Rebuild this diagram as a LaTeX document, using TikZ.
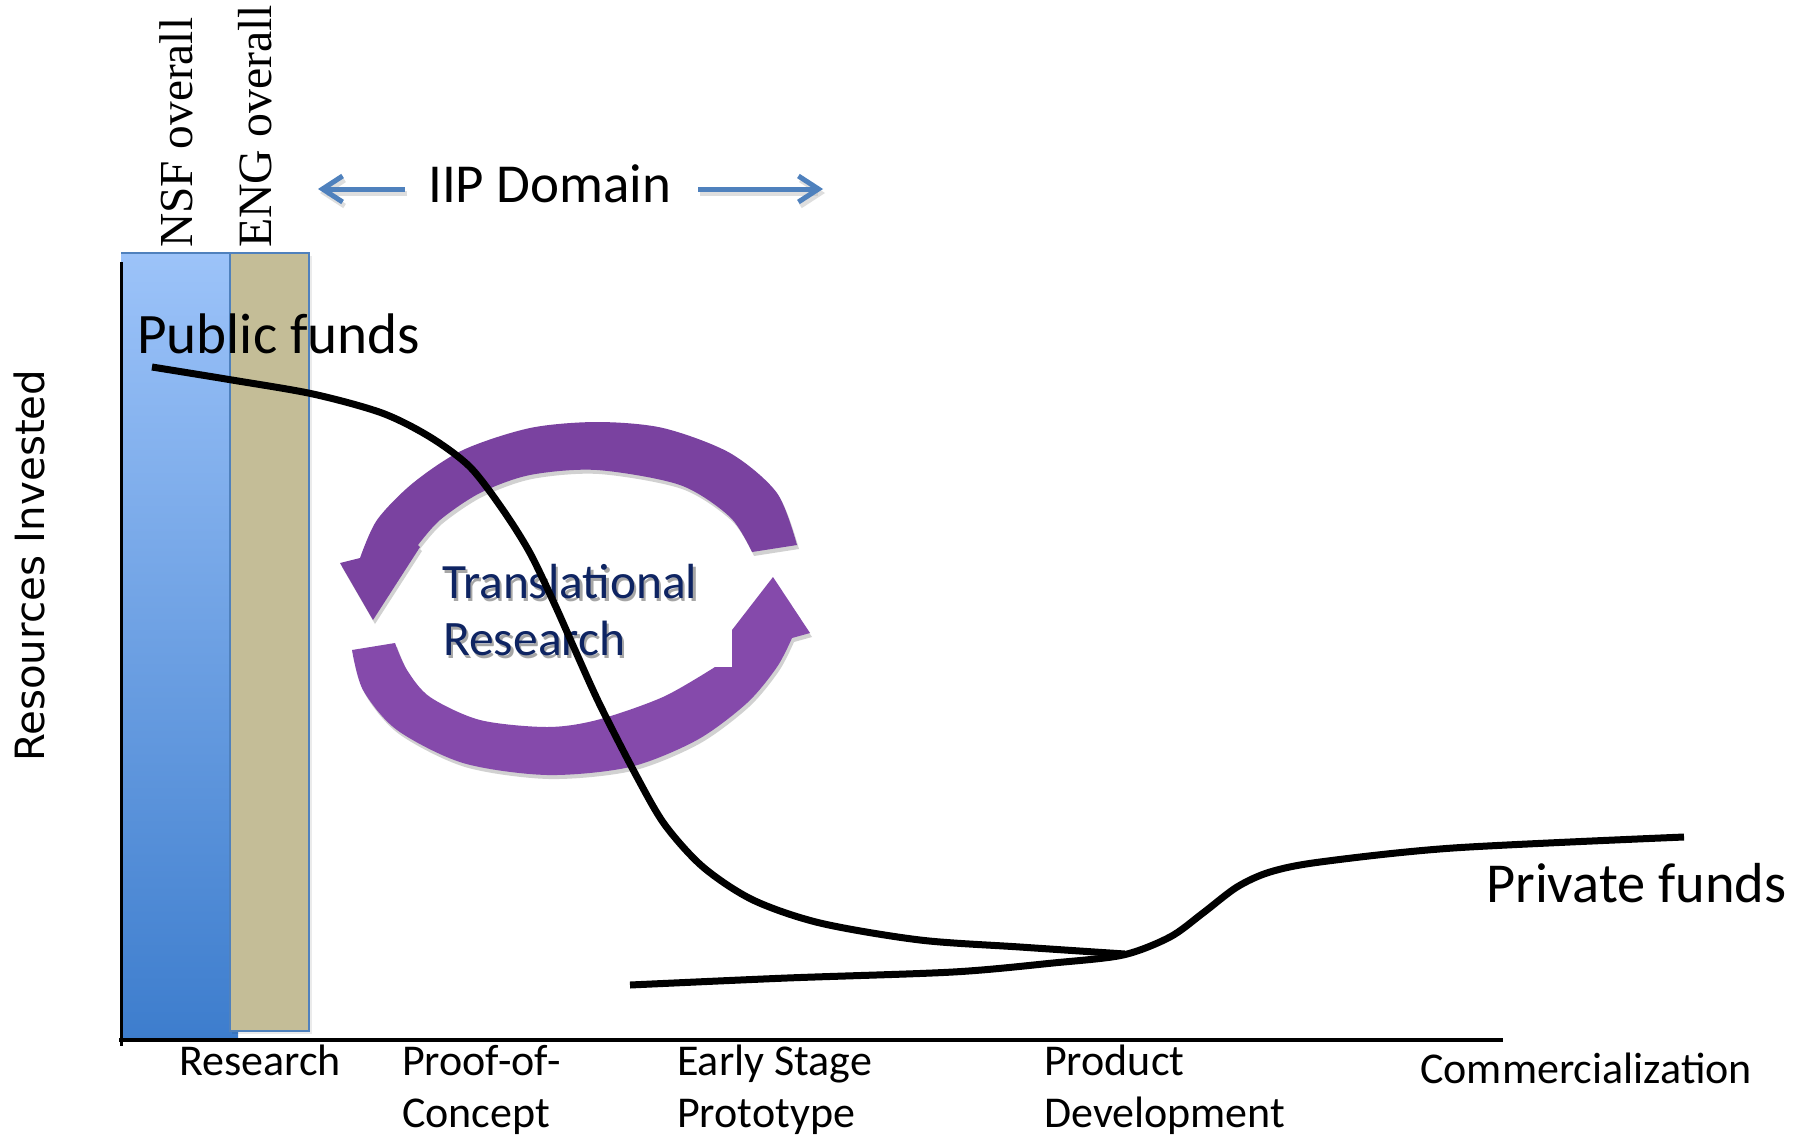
\documentclass[tikz,border=0pt]{standalone}
\usepackage{fontspec}
\usetikzlibrary{arrows.meta}
\newfontfamily\calfont{Carlito}
\newfontfamily\dvfont{DejaVu Sans}
\newfontfamily\tmfont{Liberation Serif}
\newcommand\fw[2]{\resizebox{#1pt}{!}{#2}}
\definecolor{nsftop}{RGB}{156,195,249}
\definecolor{nsfbot}{RGB}{61,125,205}
\definecolor{engtan}{RGB}{196,189,151}
\definecolor{barline}{RGB}{79,129,189}
\definecolor{arrtop}{RGB}{122,66,160}
\definecolor{arrbot}{RGB}{133,74,171}
\definecolor{navy}{RGB}{14,36,98}
\begin{document}
\begin{tikzpicture}[x=1pt,y=-1pt,
  lbl/.style={anchor=base west, inner sep=0pt, font=\calfont\fontsize{44}{48}\selectfont},
  txt/.style={anchor=base west, inner sep=0pt},
  vtxt/.style={anchor=base west, inner sep=0pt, rotate=90},
  curve/.style={line width=7pt, line join=round, line cap=butt},
  dom/.style={draw=barline, line width=5pt, -{Straight Barb[length=20pt,width=26pt,line width=5pt]}},
  toparrow/.pic={\path[pic actions] plot[smooth] coordinates {(797,545) (777,493) (730,453) (663,428) (597,422) (530,428) (463,450) (413,483) (377,520) (360,558)} -- (340,563) -- (373,620) -- (420,547) -- plot[smooth] coordinates {(418,545) (440,520) (480,493) (530,475) (597,470) (680,485) (730,517) (752,552)} -- cycle;},
  botarrow/.pic={\path[pic actions] plot[smooth] coordinates {(352,650) (363,690) (397,730) (463,763) (547,775) (630,767) (697,740) (747,703) (777,667) (792,638)} -- (810,633) -- (773,577) -- (732,630) -- (732,667) -- (715,667) -- plot[smooth] coordinates {(715,667) (663,697) (597,720) (547,727) (480,720) (430,697) (407,670) (395,643)} -- cycle;}
]
\useasboundingbox (0,0) rectangle (1806,1138);
\fill[white] (0,0) rectangle (1806,1138);

% bars
\fill[top color=nsftop, bottom color=nsfbot] (121,253) rectangle (238,1040);
\draw[barline, line width=1.2pt] (121,253) -- (230,253);
\fill[black, opacity=0.08] (232,256) rectangle (312,1034);
\draw[barline, line width=1.5pt, fill=engtan] (230,253) rectangle (309,1031);

% vertical labels
\node[vtxt] (nsf) at (192,248) {\fw{230}{\tmfont NSF overall}};
\node[vtxt] (eng) at (271,248) {\fw{243}{\tmfont ENG overall}};
\node[vtxt] (res) at (44,762) {\fw{392}{\dvfont Resources Invested}};

% IIP domain
\node[txt] (iip) at (428,202) {\fw{243}{\calfont IIP Domain}};
\coordinate (iipLa) at (405,189);
\coordinate (iipLb) at (318,189);
\coordinate (iipRa) at (698,189);
\coordinate (iipRb) at (823,189);
\draw[dom, draw=black!25, opacity=0.5] ([shift={(2,4)}]iipLa) -- ([shift={(2,4)}]iipLb);
\draw[dom, draw=black!25, opacity=0.5] ([shift={(2,4)}]iipRa) -- ([shift={(2,4)}]iipRb);
\draw[dom] (iipLa) -- (iipLb);
\draw[dom] (iipRa) -- (iipRb);

% circular arrows
\pic[fill=black, opacity=0.18] at (2,4) {toparrow};
\pic[fill=black, opacity=0.18] at (2,4) {botarrow};
\pic[fill=arrtop] at (0,0) {toparrow};
\pic[fill=arrbot] at (0,0) {botarrow};

% translational research
\node[txt, text=black!35] at (444.5,601) {\fw{255}{\calfont Translational}};
\node[txt, text=black!35] at (445.5,658) {\fw{182}{\calfont Research}};
\node[txt, text=navy] (tr1) at (442,598) {\fw{255}{\calfont Translational}};
\node[txt, text=navy] (tr2) at (443,655) {\fw{182}{\calfont Research}};

% public / private funds
\node[txt] (pub) at (137,353) {\fw{283}{\calfont Public funds}};
\node[txt] (priv) at (1486,902) {\fw{300}{\calfont Private funds}};

% curves
\draw[curve] plot[smooth, tension=0.5] coordinates {(152,367) (232,380) (313,394) (382,413) (430,437) (470,467) (503,510) (530,553) (555,605) (575,650) (600,705) (637,777) (665,825) (703,867) (753,900) (820,923) (920,940) (1020,947) (1125,954)};
\draw[curve] plot[smooth, tension=0.5] coordinates {(630,985) (787,978) (953,972) (1053,963) (1123,955) (1170,937) (1203,913) (1237,887) (1270,872) (1320,862) (1453,848) (1684,837)};

% axes
\draw[line width=3pt] (121,262) -- (121,1046);
\draw[line width=4pt] (119,1040) -- (1503,1040);

% stage labels
\node[lbl] (l1) at (179,1075) {Research};
\node[lbl] (l2a) at (402,1075) {Proof-of-};
\node[lbl] (l2b) at (402,1127) {Concept};
\node[lbl] (l3a) at (677,1075) {Early Stage};
\node[lbl] (l3b) at (677,1127) {Prototype};
\node[lbl] (l4a) at (1044,1075) {Product};
\node[lbl] (l4b) at (1044,1127) {Development};
\node[lbl] (l5) at (1420,1083) {Commercialization};
\end{tikzpicture}
\end{document}
